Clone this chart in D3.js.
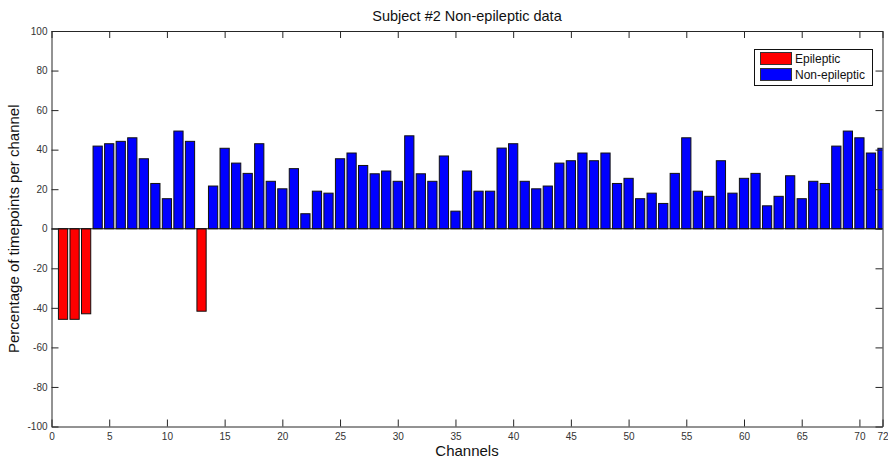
<!DOCTYPE html>
<html>
<head>
<meta charset="utf-8">
<script src="https://cdn.jsdelivr.net/npm/d3@7"></script>
<style>
body { margin: 0; background: #fff; }
svg { display: block; }
text { font-family: "Liberation Sans", Arial, sans-serif; }
</style>
</head>
<body>
<svg id="chart" width="888" height="462"></svg>
<script>
const channels = d3.range(1, 73);
const values = [
  -45.8, -45.8, -43, 41.8, 43, 44.2, 46, 35.4, 22.9, 15.2,
  49.4, 44.2, -41.7, 21.6, 40.7, 33.2, 28, 43, 24, 20.2,
  30.4, 7.6, 19, 18, 35.4, 38.3, 32, 27.8, 29.2, 24,
  47, 27.8, 24, 36.8, 8.9, 29.2, 19, 19, 40.8, 43,
  24, 20.2, 21.6, 33.2, 34.4, 38.3, 34.4, 38.3, 22.9, 25.5,
  15.2, 18, 12.8, 28, 46, 19, 16.4, 34.4, 18, 25.5,
  28, 11.6, 16.4, 26.8, 15.2, 24, 22.9, 41.8, 49.4, 46,
  38.3, 40.7
];
const epilepticChannels = [1, 2, 3, 13];
const xTicks = [0, 5, 10, 15, 20, 25, 30, 35, 40, 45, 50, 55, 60, 65, 70, 72];
const yTicks = [-100, -80, -60, -40, -20, 0, 20, 40, 60, 80, 100];
const seriesNames = ["Epileptic", "Non-epileptic"];
const seriesColors = ["#ff0000", "#0000ff"];

const data = channels.map((c, i) => ({
  ch: c, v: values[i], epi: epilepticChannels.includes(c)
}));

const svg = d3.select("#chart");
const L = 51.5, R = 882.5, T = 31, B = 426.5;

const x = d3.scaleLinear().domain([0, 72]).range([L, R]);
const y = d3.scaleLinear().domain([-100, 100]).range([B, T]);

svg.append("defs").append("clipPath").attr("id", "clip")
  .append("rect").attr("x", L).attr("y", T).attr("width", R - L).attr("height", B - T);

const bw = x(0.8) - x(0);
svg.append("g").attr("clip-path", "url(#clip)")
  .selectAll("rect").data(data).enter().append("rect")
  .attr("x", d => x(d.ch) - bw / 2)
  .attr("width", bw)
  .attr("y", d => y(Math.max(0, d.v)))
  .attr("height", d => Math.abs(y(d.v) - y(0)))
  .attr("fill", d => d.epi ? seriesColors[0] : seriesColors[1])
  .attr("stroke", "#111")
  .attr("stroke-width", 1);

// baseline at 0
svg.append("line").attr("x1", L).attr("x2", R).attr("y1", y(0)).attr("y2", y(0))
  .attr("stroke", "#111").attr("stroke-width", 1);

const tickLen = 7;
const axisColor = "#262626";
const labelColor = "#333";
const fmt = d => String(d);

// Bottom axis
const xb = svg.append("g").attr("transform", `translate(0,${B})`)
  .call(d3.axisBottom(x).tickValues(xTicks).tickSizeInner(-tickLen).tickSizeOuter(0).tickPadding(4).tickFormat(fmt));
// Top axis
const xt = svg.append("g").attr("transform", `translate(0,${T})`)
  .call(d3.axisTop(x).tickValues(xTicks).tickSizeInner(-tickLen).tickSizeOuter(0).tickFormat(""));
// Left axis
const yl = svg.append("g").attr("transform", `translate(${L},0)`)
  .call(d3.axisLeft(y).tickValues(yTicks).tickSizeInner(-tickLen).tickSizeOuter(0).tickPadding(4).tickFormat(fmt));
// Right axis
const yr = svg.append("g").attr("transform", `translate(${R},0)`)
  .call(d3.axisRight(y).tickValues(yTicks).tickSizeInner(-tickLen).tickSizeOuter(0).tickFormat(""));

[xb, xt, yl, yr].forEach(g => {
  g.select(".domain").attr("stroke", axisColor);
  g.selectAll(".tick line").attr("stroke", axisColor);
  g.selectAll(".tick text").attr("fill", labelColor).style("font-size", "10px")
    .style("font-family", "'Liberation Sans', Arial, sans-serif");
});
xb.selectAll(".tick text").attr("dy", "0.9em");

// Title
svg.append("text").attr("x", (L + R) / 2).attr("y", 21).attr("text-anchor", "middle")
  .style("font-size", "14.5px").attr("fill", "#111").text("Subject #2 Non-epileptic data");
// X label
svg.append("text").attr("x", (L + R) / 2).attr("y", 456).attr("text-anchor", "middle")
  .style("font-size", "15px").attr("fill", "#111").text("Channels");
// Y label
svg.append("text").attr("transform", `translate(19,${(T + B) / 2}) rotate(-90)`)
  .attr("text-anchor", "middle").style("font-size", "15px").attr("fill", "#111")
  .text("Percentage of timepoints per channel");

// Legend
const lg = svg.append("g");
lg.append("rect").attr("x", 754.5).attr("y", 49.5).attr("width", 118).attr("height", 36)
  .attr("fill", "#fff").attr("stroke", "#111");
seriesNames.forEach((n, i) => {
  lg.append("rect").attr("x", 760.5).attr("y", 52.5 + i * 16).attr("width", 31).attr("height", 12)
    .attr("fill", seriesColors[i]).attr("stroke", "#333");
  lg.append("text").attr("x", 795).attr("y", 63 + i * 16).style("font-size", "12px")
    .attr("fill", "#111").text(n);
});
</script>
</body>
</html>
